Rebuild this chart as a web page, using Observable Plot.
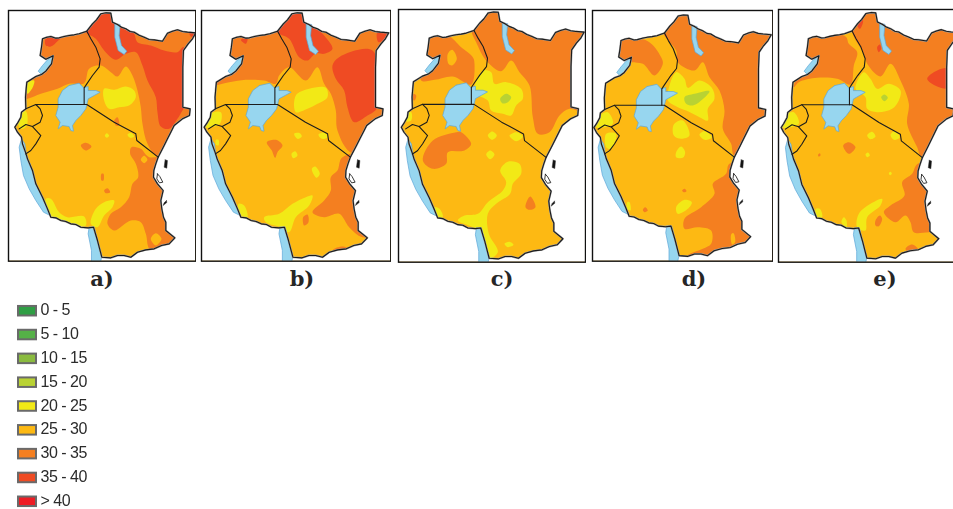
<!DOCTYPE html>
<html><head><meta charset="utf-8">
<script src="https://cdn.jsdelivr.net/npm/d3@7"></script>
<script src="https://cdn.jsdelivr.net/npm/@observablehq/plot@0.6"></script>
<style>
html,body{margin:0;padding:0;background:#fff;width:953px;height:509px;overflow:hidden}
#page{position:relative;width:953px;height:509px;overflow:hidden}
.panel{position:absolute}
.panel svg{max-width:none;filter:blur(.6px);display:block}
.lab{position:absolute;top:266px;width:60px;text-align:center;font:bold 21px "DejaVu Serif",serif;color:#262626;line-height:26px}
#legend{position:absolute;left:0;top:299.5px}
#legend svg{max-width:none;display:block;filter:blur(.3px)}
#legend text{letter-spacing:-.5px}
</style></head><body><div id="page"></div>
<script>
// legend classes
const classLabels=["0 - 5","5 - 10","10 - 15","15 - 20","20 - 25","25 - 30","30 - 35","35 - 40","> 40"];
const classColors=["#2f9e44","#55b047","#8abb3f","#b9d233","#f2e916","#fdb913","#f47f20","#ef4b23","#ed1c24"];
const panelLabels=["a)","b)","c)","d)","e)"];

// shared geography, in map units
const land=[[125,115],[138,110],[150,108],[165,113],[175,112],[190,108],[205,105],[220,103],[235,100],[258,92],[275,70],[287,58],[300,40],[316,37],[330,38],[335,65],[350,72],[362,80],[375,85],[388,93],[400,95],[415,104],[430,110],[445,117],[460,118],[485,122],[500,98],[515,92],[530,88],[545,93],[560,95],[585,97],[575,115],[562,130],[548,150],[546,200],[546,320],[568,325],[566,345],[545,355],[520,375],[510,395],[500,415],[490,435],[472,470],[465,490],[459,510],[458,530],[470,550],[487,570],[480,600],[483,625],[488,650],[495,665],[495,690],[522,712],[505,730],[482,735],[460,745],[435,748],[410,755],[390,770],[370,765],[350,765],[330,772],[303,770],[290,720],[278,680],[262,682],[240,680],[225,672],[210,670],[195,663],[180,660],[165,652],[150,650],[140,625],[125,590],[105,550],[95,510],[80,475],[75,458],[65,430],[62,410],[50,395],[42,380],[50,368],[60,350],[62,335],[75,325],[74,290],[76,265],[78,245],[105,228],[122,222],[135,212],[152,190],[157,166],[135,176],[118,165],[122,140]];
const farRing=[[-200,-200],[-200,1000],[900,1000],[900,-200],[-200,-200]];
const borders=[
 [[258,92],[270,115],[285,140],[298,175],[295,200],[275,225],[258,250],[250,262],[250,312]],
 [[75,325],[105,312],[250,312],[258,312],[340,365],[405,400],[408,420],[472,470]],
 [[105,312],[118,325],[125,345],[118,365],[95,378],[75,372],[55,385]],
 [[95,378],[120,405],[105,430],[90,450],[75,460]]];
const lakes=[
 [[205,255],[235,248],[248,262],[262,258],[262,270],[285,270],[298,275],[280,285],[262,295],[258,312],[255,325],[240,345],[225,360],[215,375],[218,392],[210,390],[205,378],[185,375],[172,385],[178,365],[165,345],[172,320],[172,295],[185,270]],
 [[342,70],[358,72],[355,105],[362,135],[378,152],[370,162],[352,150],[342,110]],
 [[157,165],[152,190],[135,212],[122,222],[112,212],[125,195],[140,178]],
 [[62,415],[72,430],[76,460],[95,510],[105,550],[125,590],[140,625],[148,645],[128,635],[105,600],[85,565],[68,525],[60,480],[55,440]],
 [[265,680],[280,680],[290,720],[303,768],[298,790],[272,790],[272,750],[262,700]]];
const islands=[[[493,478],[500,480],[498,503],[490,500]],[[497,600],[498,606],[487,615],[490,607]]];
const openIslands=[[[470,520],[477,528],[486,545],[476,547],[468,535]]];

// rainfall class zones per panel, in each panel's own units
const a3035=[[[40,300],[80,295],[120,280],[170,265],[205,250],[250,248],[265,205],[300,195],[330,215],[350,228],[375,198],[395,225],[410,270],[420,320],[425,370],[440,430],[472,470],[620,470],[620,10],[40,10]],
 [[392,440],[420,445],[445,470],[560,460],[560,735],[450,750],[435,700],[420,665],[390,660],[340,690],[320,670],[330,640],[360,620],[385,590],[395,550],[412,530],[405,490],[388,460]],
 [[240,435],[255,427],[272,438],[255,450]],[[340,360],[350,350],[355,375],[345,375]],[[310,570],[320,563],[328,575],[315,578]],[[302,520],[308,520],[308,540],[302,540]]];
const a2530=[[[450,715],[465,698],[482,715],[465,735]],[[420,478],[430,466],[440,478],[430,488]]];
const a3540=[[[250,90],[285,115],[310,150],[345,178],[375,160],[405,155],[425,195],[440,240],[465,290],[470,335],[480,378],[505,385],[530,355],[545,330],[552,318],[548,140],[530,155],[490,150],[450,135],[410,125],[400,100],[380,80],[340,25],[290,25],[250,60]],
 [[135,115],[185,108],[170,122],[150,138],[135,135]],[[565,90],[595,92],[585,108],[570,108]]];
const a2025=[[[310,265],[340,268],[375,258],[400,270],[405,290],[385,315],[355,320],[325,325],[310,300]],
 [[270,670],[285,625],[310,605],[340,600],[335,620],[310,645],[290,680]],
 [[135,595],[150,595],[175,635],[200,650],[250,648],[255,675],[210,672],[150,655]],
 [[50,345],[75,332],[78,375],[60,385]],[[312,405],[318,398],[325,405],[318,412]],[[380,403],[390,397],[400,408],[388,412]],[[80,245],[100,240],[95,262],[80,280]]];

const b3035=[[[40,250],[100,245],[150,238],[205,240],[240,250],[250,225],[280,200],[330,240],[365,200],[385,250],[405,280],[420,330],[425,390],[470,460],[620,460],[620,10],[40,10]],
 [[440,470],[425,510],[405,530],[405,570],[385,600],[350,635],[385,650],[430,640],[460,680],[500,710],[560,700],[560,460]],
 [[213,425],[240,418],[260,435],[245,455],[238,472],[228,450]],[[322,650],[335,642],[338,665],[325,675]],[[412,748],[440,738],[460,745],[430,762]]];
const b3540=[[[245,95],[280,115],[310,170],[335,180],[360,158],[385,160],[410,145],[385,105],[360,80],[320,30],[285,30],[245,70]],
 [[410,195],[430,170],[530,150],[545,320],[515,345],[475,365],[455,320],[445,270],[420,235]],
 [[545,95],[590,95],[575,112],[548,125]],[[135,118],[155,112],[150,130]]];
const b2025=[[[300,285],[340,265],[390,262],[395,290],[365,310],[335,325],[300,335]],[[295,400],[312,398],[318,408],[305,415]],[[368,402],[385,396],[395,410],[378,415]],[[287,460],[298,452],[305,465],[292,473]],[[348,505],[358,498],[372,520],[362,532]],
 [[205,650],[250,640],[290,610],[330,590],[350,585],[340,615],[300,650],[280,695],[255,680],[210,665]],[[128,610],[145,615],[155,650],[130,640]],[[35,345],[75,335],[72,370],[30,380]],[[60,418],[68,418],[68,435],[60,432]]];

const c3035=[[[85,240],[125,238],[180,228],[235,252],[245,190],[240,170],[205,140],[165,105],[100,100],[90,180]],
 [[235,90],[250,125],[280,180],[325,212],[355,180],[380,215],[410,255],[420,350],[435,400],[470,395],[500,345],[530,325],[600,340],[600,10],[235,10]],
 [[90,480],[120,420],[190,395],[205,395],[235,430],[215,450],[165,455],[160,490],[120,505]],[[398,620],[412,588],[428,620],[410,628]],[[60,280],[70,285],[65,300],[56,295]]];
const c2530=[[[165,160],[178,148],[192,175],[178,195],[167,190]]];
const c2025=[[[245,275],[270,210],[295,215],[305,250],[340,245],[385,265],[390,295],[370,315],[355,345],[330,340],[295,330],[285,300]],
 [[285,405],[298,393],[312,405],[298,418]],[[350,405],[372,395],[390,408],[370,422]],[[280,462],[292,450],[305,462],[292,476]],
 [[322,510],[345,484],[380,490],[385,520],[360,550],[352,580],[310,610],[285,640],[288,700],[315,755],[285,775],[270,700],[240,680],[195,660],[215,645],[255,640],[285,605],[330,570],[340,545]],
 [[335,730],[350,724],[362,733],[345,740]],[[125,620],[140,625],[150,650],[130,648]],[[35,345],[55,335],[55,360],[38,362]]];
const c1520=[[[322,295],[340,280],[355,290],[345,305],[328,308]]];

const d3035=[[[100,115],[180,122],[220,170],[225,190],[200,225],[165,190],[130,185],[100,175]],
 [[225,95],[265,150],[270,185],[320,210],[345,185],[365,230],[395,270],[410,330],[405,385],[430,430],[440,465],[600,340],[600,10],[225,10]],
 [[425,490],[415,520],[375,550],[380,580],[340,620],[290,655],[290,685],[330,680],[370,690],[370,730],[345,745],[300,765],[600,770],[600,480]],
 [[165,628],[172,620],[180,630],[170,635]],[[283,570],[290,565],[296,572],[288,575]]];
const d2530=[[[430,702],[437,698],[442,725],[433,732]]];
const d2025=[[[240,275],[265,215],[290,235],[300,262],[335,240],[372,262],[380,295],[360,325],[360,360],[335,350],[295,330],[270,320],[240,300]],
 [[258,372],[285,360],[305,405],[280,415],[258,405]],[[335,402],[350,392],[372,410],[350,418]],[[265,455],[280,438],[292,455],[285,472],[265,470]],
 [[265,620],[290,598],[312,605],[300,625],[270,640]],[[30,350],[60,335],[75,370],[25,380]],[[55,400],[85,400],[70,445],[55,440]],[[118,605],[125,605],[128,630],[118,625]]];
const d1520=[[[290,290],[320,280],[365,272],[340,300],[315,315],[295,310]]];

const e3035=[[[60,260],[75,245],[130,232],[190,235],[230,252],[240,195],[250,155],[225,130],[215,108],[100,100],[90,170]],
 [[235,95],[270,160],[280,190],[320,228],[350,190],[380,240],[405,310],[400,370],[430,440],[445,470],[620,470],[620,10],[235,10]],
 [[432,490],[415,520],[385,545],[392,585],[350,615],[330,635],[365,665],[395,645],[410,665],[420,695],[470,695],[600,710],[600,480]],
 [[208,435],[225,425],[245,440],[225,460]],[[305,660],[318,645],[325,655],[315,677],[305,675]],[[395,745],[415,732],[435,750],[410,760]],
 [[133,462],[138,458],[140,465],[134,468]]];
const e3540=[[[460,235],[490,210],[525,205],[525,262],[490,258]],[[250,72],[263,52],[268,62],[258,85]],[[310,140],[318,132],[322,145],[315,155]]];
const e2025=[[[245,265],[270,215],[290,235],[310,265],[345,250],[380,270],[375,300],[355,325],[310,335],[280,325],[275,290]],
 [[280,405],[295,394],[305,408],[290,416]],[[350,403],[362,392],[378,410],[360,418]],[[275,462],[282,456],[288,464],[280,470]],
 [[250,680],[255,640],[290,610],[325,595],[320,615],[280,650],[275,690]],[[203,665],[210,650],[218,660],[218,680]],[[126,625],[138,625],[145,650],[128,650]],[[35,345],[60,335],[75,370],[25,380]],[[345,518],[350,514],[354,520],[349,524]]];
const e1520=[[[322,290],[332,282],[342,292],[332,302]]];

// panel extents in their own units, page position, and how the shared map sits in each
const panelDomainsX=[[23,585],[17,585],[17,578],[14,555],[14,575]];
const panelDomainsY=[[782,30],[782,30],[785,27],[782,30],[785,27]];
const panelBoxes=[[7.7,10,187.3,250.7],[200.7,10,189.3,250.7],[397.7,9,187,252.7],[591.7,10,180.3,250.7],[777.7,9,187,252.7]];
const labelCentres=[102,302,502,694,885];
const fitX=[[1,0],[1.02,-17.8],[1.01,-17],[.98,-23],[.985,-19.4]];
const fitY=[[1,0],[1,0],[1.008,-3],[.985,7],[1.005,-1]];

const base="#fdb913",lakeFill="#97d6ef",lakeEdge="#5da6d8",lineCol="#1c1c1c";
const zoneLayers=[
 [[a3035,classColors[6]],[a3540,classColors[7]],[a2530,classColors[5]],[a2025,classColors[4]]],
 [[b3035,classColors[6]],[b3540,classColors[7]],[b2025,classColors[4]]],
 [[c3035,classColors[6]],[c2530,classColors[5]],[c2025,classColors[4]],[c1520,classColors[3]]],
 [[d3035,classColors[6]],[d2530,classColors[5]],[d2025,classColors[4]],[d1520,classColors[3]]],
 [[e3035,classColors[6]],[e3540,classColors[7]],[e2025,classColors[4]],[e1520,classColors[3]]]];
const maskRing=[...farRing,...land,land[0],farRing[0]];
const page=document.getElementById("page");

panelLabels.forEach((lab,i)=>{
 const [l,t,w,h]=panelBoxes[i],[kx,ox]=fitX[i],[ky,oy]=fitY[i];
 const gx=d=>kx*d[0]+ox, gy=d=>ky*d[1]+oy;
 const marks=[Plot.frame({fill:base,stroke:"none"})];
 for(const [rings,color] of zoneLayers[i]) for(const r of rings)
  marks.push(Plot.line(r,{x:d=>d[0],y:d=>d[1],fill:color,stroke:"none",curve:"catmull-rom-closed",clip:true}));
 marks.push(Plot.line(maskRing,{x:gx,y:gy,fill:"#fff",stroke:"none",clip:true}));
 for(const r of lakes)
  marks.push(Plot.line([...r,r[0]],{x:gx,y:gy,fill:lakeFill,stroke:lakeEdge,strokeWidth:.7,clip:true}));
 marks.push(Plot.line([...land,land[0]],{x:gx,y:gy,stroke:"#a0a0a0",strokeWidth:1.9,clip:true}));
 marks.push(Plot.line([...land,land[0]],{x:gx,y:gy,stroke:lineCol,strokeWidth:1.1,clip:true}));
 for(const r of borders) marks.push(Plot.line(r,{x:gx,y:gy,stroke:lineCol,strokeWidth:1.1,clip:true}));
 for(const r of islands) marks.push(Plot.line([...r,r[0]],{x:gx,y:gy,fill:"#111",stroke:"#333",strokeWidth:.5,clip:true}));
 for(const r of openIslands) marks.push(Plot.line([...r,r[0]],{x:gx,y:gy,fill:"#fff",stroke:"#222",strokeWidth:.9,clip:true}));
 marks.push(Plot.frame({stroke:"#111",strokeWidth:1.4}));
 const svg=Plot.plot({width:w+2,height:h+2,marginTop:1,marginRight:1,marginBottom:1,marginLeft:1,
  x:{domain:panelDomainsX[i],axis:null},y:{domain:panelDomainsY[i],axis:null},marks,
  style:{background:"#fff",overflow:"hidden"}});
 const box=document.createElement("div");box.className="panel";
 box.style.cssText=`left:${l-1}px;top:${t-1}px;width:${w+2}px;height:${h+2}px`;
 box.appendChild(svg);page.appendChild(box);
 const cap=document.createElement("div");cap.className="lab";cap.textContent=lab;
 cap.style.left=(labelCentres[i]-30)+"px";page.appendChild(cap);
});

const legendPlot=Plot.plot({width:120,height:212,marginTop:0,marginRight:0,marginBottom:0,marginLeft:0,
 x:{type:"band",domain:["swatch","label"],range:[18,54],padding:0,axis:null},
 y:{type:"band",domain:classLabels,paddingInner:.6,paddingOuter:.25,round:false,axis:null},
 color:{type:"ordinal",domain:classLabels,range:classColors},
 marks:[
  Plot.cell(classLabels,{x:()=>"swatch",y:d=>d,fill:d=>d,stroke:"#6a6a6a",strokeWidth:2}),
  Plot.text(classLabels,{x:()=>"label",y:d=>d,text:d=>d,dy:-1,textAnchor:"start",dx:-5,fontSize:16,fontFamily:"Liberation Sans",fill:"#2b2b2b"})
 ],style:{background:"transparent"}});
const lg=document.createElement("div");lg.id="legend";lg.appendChild(legendPlot);page.appendChild(lg);
</script></body></html>
